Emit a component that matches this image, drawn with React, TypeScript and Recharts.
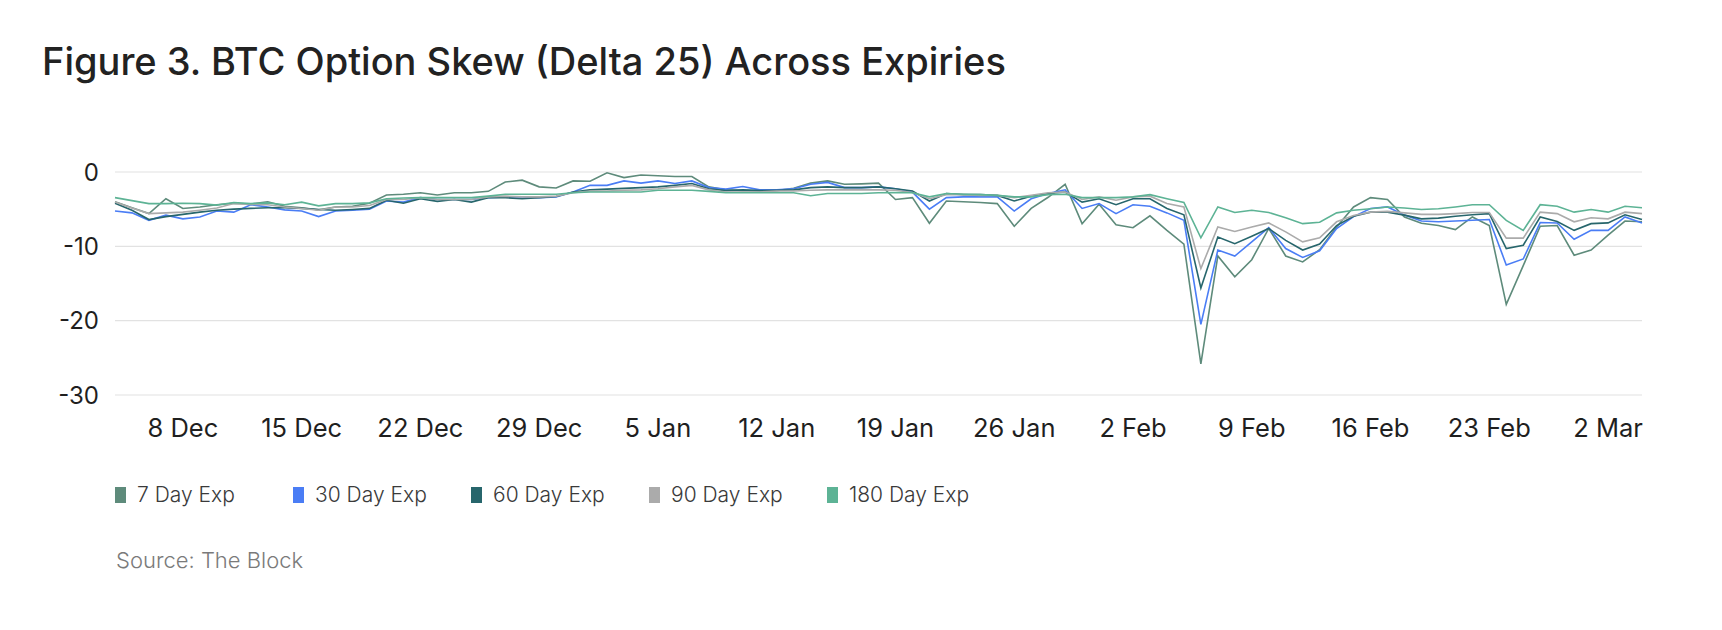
import React from 'react';
import { LineChart, Line, XAxis, YAxis, CartesianGrid } from 'recharts';

// daily 25-delta skew, 4 Dec -> 4 Mar (index 0..90)
const skew7d = [
  -4.0, -4.8, -5.6, -3.6, -4.9, -4.7, -4.4, -4.2, -4.3, -4.0, -4.6, -4.8, -5.1,
  -4.7, -4.6, -4.2, -3.1, -3.0, -2.8, -3.1, -2.8, -2.8, -2.6, -1.35, -1.1, -2.0,
  -2.15, -1.2, -1.25, -0.1, -0.75, -0.4, -0.5, -0.6, -0.6, -2.0, -2.4, -2.5, -2.5,
  -2.5, -2.2, -1.5, -1.2, -1.65, -1.6, -1.5, -3.7, -3.45, -6.9, -3.9, -4.0, -4.1,
  -4.25, -7.3, -4.9, -3.4, -1.65, -6.95, -4.35, -7.1, -7.5, -5.9, -7.85, -9.7, -25.8,
  -11.3, -14.1, -11.8, -7.6, -11.3, -12.1, -10.45, -7.4, -4.7, -3.45, -3.7, -6.05, -6.9,
  -7.2, -7.75, -6.05, -7.2, -17.8, -12.6, -7.3, -7.2, -11.2, -10.5, -8.5, -6.6, -6.7,
];

const skew30d = [
  -5.25, -5.5, -6.5, -5.8, -6.3, -6.05, -5.25, -5.4, -4.4, -4.7, -5.1, -5.25, -6.0,
  -5.25, -5.15, -5.0, -3.9, -4.05, -3.45, -3.7, -3.7, -3.7, -3.45, -3.35, -3.35, -3.45,
  -3.35, -2.7, -1.8, -1.8, -1.2, -1.5, -1.2, -1.55, -1.2, -2.1, -2.3, -1.95, -2.4,
  -2.4, -2.25, -1.65, -1.4, -2.1, -2.1, -2.0, -2.25, -2.7, -5.0, -3.45, -3.35, -3.35,
  -3.35, -5.25, -3.6, -2.9, -2.4, -4.9, -4.25, -5.6, -4.4, -4.6, -5.5, -6.5, -20.5,
  -10.5, -11.3, -9.4, -7.5, -10.3, -11.5, -10.6, -7.6, -6.0, -4.9, -4.7, -5.8, -6.6,
  -6.7, -6.6, -6.5, -6.4, -12.5, -11.7, -6.8, -6.85, -9.05, -7.85, -7.85, -6.05, -6.85,
];

const skew60d = [
  -4.2, -5.15, -6.4, -6.0, -5.7, -5.4, -5.15, -5.0, -4.9, -4.8, -4.8, -4.9, -5.05,
  -5.15, -5.05, -4.9, -3.8, -4.2, -3.6, -3.95, -3.7, -4.05, -3.45, -3.45, -3.6, -3.45,
  -3.3, -2.7, -2.4, -2.3, -2.2, -2.1, -2.0, -1.8, -1.55, -2.25, -2.5, -2.4, -2.5,
  -2.45, -2.4, -2.1, -2.0, -2.1, -2.1, -2.0, -2.25, -2.55, -3.9, -2.9, -3.05, -3.05,
  -3.15, -3.9, -3.25, -2.9, -2.7, -4.05, -3.6, -4.4, -3.6, -3.6, -4.9, -5.75, -15.6,
  -8.75, -9.65, -8.65, -7.6, -9.2, -10.5, -9.7, -7.2, -5.95, -5.4, -5.4, -5.8, -6.3,
  -6.2, -5.95, -5.75, -5.6, -10.3, -9.85, -6.05, -6.65, -7.85, -6.95, -6.85, -5.75, -6.4,
];

const skew90d = [
  -4.05, -4.85, -5.6, -5.5, -5.4, -5.15, -4.85, -4.25, -4.35, -4.4, -4.7, -4.9, -5.15,
  -4.7, -4.7, -4.5, -3.7, -3.7, -3.45, -3.7, -3.7, -3.7, -3.35, -3.25, -3.35, -3.35,
  -3.25, -2.8, -2.55, -2.55, -2.45, -2.4, -2.25, -2.0, -1.8, -2.4, -2.7, -2.7, -2.7,
  -2.55, -2.55, -2.45, -2.4, -2.4, -2.4, -2.4, -2.45, -2.75, -3.6, -3.05, -3.05, -3.15,
  -3.15, -3.45, -3.15, -2.8, -2.7, -3.7, -3.35, -3.8, -3.35, -3.25, -4.25, -4.7, -13.0,
  -7.4, -8.0, -7.4, -6.85, -8.05, -9.4, -8.85, -6.7, -5.85, -5.4, -5.3, -5.5, -5.7,
  -5.7, -5.6, -5.45, -5.45, -8.9, -8.9, -5.4, -5.6, -6.7, -6.15, -6.3, -5.4, -5.6,
];

const skew180d = [
  -3.45, -3.85, -4.25, -4.25, -4.2, -4.25, -4.45, -4.1, -4.25, -4.15, -4.4, -4.05, -4.55,
  -4.25, -4.25, -4.15, -3.6, -3.5, -3.45, -3.45, -3.45, -3.45, -3.25, -3.0, -3.0, -3.0,
  -3.0, -2.8, -2.7, -2.7, -2.7, -2.7, -2.45, -2.45, -2.45, -2.6, -2.8, -2.8, -2.8,
  -2.8, -2.8, -3.2, -2.9, -2.9, -2.9, -2.8, -2.75, -2.8, -3.35, -2.9, -3.0, -3.05,
  -3.15, -3.35, -3.35, -3.05, -3.0, -3.45, -3.45, -3.45, -3.35, -3.05, -3.6, -4.1, -8.85,
  -4.7, -5.45, -5.15, -5.45, -6.15, -6.95, -6.75, -5.5, -5.15, -4.95, -4.7, -4.85, -5.05,
  -4.95, -4.7, -4.4, -4.4, -6.5, -7.85, -4.4, -4.6, -5.4, -5.05, -5.4, -4.6, -4.8,
];

// weekly ticks (Sundays), as day offsets from 4 Dec
const xTicks = [4, 11, 18, 25, 32, 39, 46, 53, 60, 67, 74, 81, 88];
const xTickLabels = [
  '8 Dec', '15 Dec', '22 Dec', '29 Dec', '5 Jan', '12 Jan', '19 Jan',
  '26 Jan', '2 Feb', '9 Feb', '16 Feb', '23 Feb', '2 Mar',
];
const yTicks = [-30, -20, -10, 0];

const seriesNames = ['7 Day Exp', '30 Day Exp', '60 Day Exp', '90 Day Exp', '180 Day Exp'];
const seriesKeys = ['d7', 'd30', 'd60', 'd90', 'd180'];
const seriesColors = ['#5e8b7b', '#4a7df5', '#27666c', '#ababab', '#5db395'];

const chartData = skew7d.map((v, i) => ({
  day: i,
  d7: v,
  d30: skew30d[i],
  d60: skew60d[i],
  d90: skew90d[i],
  d180: skew180d[i],
}));

const FONT = 'Inter, "Noto Sans", sans-serif';

export default function App() {
  return (
    <div
      style={{
        position: 'relative',
        width: 1722,
        height: 630,
        background: '#fff',
        fontFamily: FONT,
        overflow: 'hidden',
      }}
    >
      <style>{'body{margin:0}'}</style>

      <div
        style={{
          position: 'absolute',
          left: 42,
          top: 42,
          fontSize: 38,
          lineHeight: 1,
          fontWeight: 500,
          color: '#222',
          whiteSpace: 'nowrap',
        }}
      >
        Figure 3. BTC Option Skew (Delta 25) Across Expiries
      </div>

      <div style={{ position: 'absolute', left: 0, top: 0 }}>
        <LineChart
          width={1722}
          height={460}
          data={chartData}
          margin={{ top: 172, right: 80, left: 0, bottom: 0 }}
        >
          <CartesianGrid vertical={false} stroke="#e2e2e2" strokeWidth={1.2} />
          <XAxis
            dataKey="day"
            type="number"
            domain={[0, 90]}
            ticks={xTicks}
            tickFormatter={(v: number) => xTickLabels[xTicks.indexOf(v)] ?? ''}
            axisLine={false}
            tickLine={false}
            tickMargin={18}
            height={65}
            tick={{ fill: '#1f1f1f', fontSize: 25.5, fontFamily: FONT }}
          />
          <YAxis
            domain={[-30, 0]}
            ticks={yTicks}
            axisLine={false}
            tickLine={false}
            tickMargin={10}
            width={115}
            tick={{ fill: '#1f1f1f', fontSize: 24, fontFamily: FONT }}
          />
          {seriesKeys.map((k, idx) => (
            <Line
              key={k}
              type="linear"
              dataKey={k}
              name={seriesNames[idx]}
              stroke={seriesColors[idx]}
              strokeWidth={1.6}
              dot={false}
              activeDot={false}
              isAnimationActive={false}
            />
          ))}
        </LineChart>
      </div>

      {seriesNames.map((name, idx) => (
        <div
          key={name}
          style={{
            position: 'absolute',
            left: 115 + idx * 178,
            top: 484,
            display: 'flex',
            alignItems: 'center',
            fontSize: 21,
            lineHeight: 1,
            fontWeight: 300,
            color: '#3a3a3a',
            whiteSpace: 'nowrap',
          }}
        >
          <span
            style={{
              display: 'inline-block',
              width: 11,
              height: 16,
              background: seriesColors[idx],
              marginRight: 11,
            }}
          />
          {name}
        </div>
      ))}

      <div
        style={{
          position: 'absolute',
          left: 116,
          top: 549,
          fontSize: 22,
          lineHeight: 1,
          fontWeight: 300,
          color: '#7a7a7a',
        }}
      >
        Source: The Block
      </div>
    </div>
  );
}
